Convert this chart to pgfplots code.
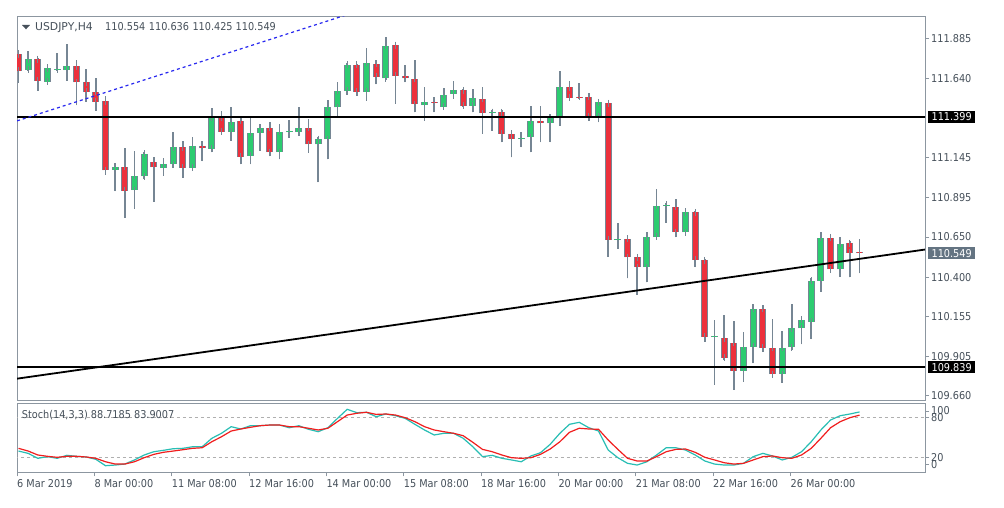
\documentclass[border=0pt]{standalone}
\usepackage{fontspec}
\setmainfont{DejaVu Sans Condensed}
\newfontfamily\widefont{DejaVu Sans}
\usepackage{pgfplots}
\pgfplotsset{compat=1.18}
\usepackage{pgfplotstable}

\definecolor{barGray}{RGB}{118,134,148}
\definecolor{axisGray}{RGB}{140,150,160}
\definecolor{textGray}{RGB}{70,80,90}
\definecolor{bullGreen}{RGB}{44,204,112}
\definecolor{bearRed}{RGB}{236,48,60}
\definecolor{kColor}{RGB}{40,190,180}
\definecolor{dColor}{RGB}{240,30,30}
\definecolor{lastGray}{RGB}{100,116,130}
\definecolor{trendBlue}{RGB}{40,40,240}
\definecolor{levelGray}{RGB}{175,175,175}
\newcommand\tf{\fontsize{10.8}{12}\selectfont}

% bullish candles (close >= open)
\pgfplotstableread{
i O H L C
1 111.692 111.810 111.686 111.760
3 111.619 111.727 111.612 111.702
4 111.695 111.799 111.686 111.697
5 111.690 111.852 111.623 111.715
10 111.068 111.114 110.937 111.089
12 110.943 111.188 110.825 111.031
13 111.029 111.182 111.012 111.168
15 111.082 111.145 111.031 111.106
16 111.104 111.303 111.082 111.210
18 111.082 111.272 111.079 111.218
20 111.199 111.457 111.179 111.397
22 111.307 111.463 111.251 111.369
24 111.157 111.399 111.104 111.301
25 111.301 111.352 111.187 111.332
27 111.179 111.354 111.135 111.307
28 111.312 111.378 111.268 111.314
29 111.307 111.461 111.283 111.332
31 111.227 111.272 110.991 111.261
32 111.261 111.505 111.135 111.459
33 111.459 111.619 111.405 111.563
34 111.561 111.733 111.536 111.723
36 111.556 111.831 111.500 111.737
38 111.640 111.895 111.629 111.843
42 111.473 111.587 111.376 111.490
44 111.463 111.581 111.459 111.536
45 111.542 111.625 111.511 111.565
47 111.469 111.571 111.428 111.519
49 111.427 111.442 111.313 111.429
52 111.265 111.307 111.210 111.267
53 111.272 111.467 111.179 111.376
55 111.359 111.417 111.241 111.390
56 111.390 111.687 111.344 111.587
60 111.403 111.511 111.366 111.489
62 110.635 110.740 110.576 110.637
65 110.462 110.680 110.368 110.652
66 110.652 110.948 110.652 110.844
67 110.849 110.861 110.740 110.851
69 110.680 110.833 110.669 110.804
72 110.028 110.133 109.728 110.030
75 109.817 110.060 109.748 109.967
76 109.967 110.233 109.863 110.202
79 109.796 110.066 109.742 109.960
80 109.963 110.233 109.946 110.081
81 110.081 110.158 109.983 110.133
82 110.122 110.397 110.013 110.376
83 110.376 110.680 110.309 110.646
85 110.449 110.652 110.403 110.607
}\bull

% bearish candles (close < open)
\pgfplotstableread{
i O H L C
0 111.791 111.816 111.611 111.686
2 111.760 111.768 111.561 111.625
6 111.715 111.754 111.473 111.615
7 111.615 111.696 111.494 111.556
8 111.556 111.644 111.436 111.494
9 111.498 111.530 111.037 111.066
11 111.089 111.203 110.771 110.939
14 111.120 111.147 110.871 111.085
17 111.210 111.249 111.020 111.082
19 111.218 111.249 111.124 111.203
21 111.394 111.438 111.305 111.307
23 111.374 111.390 111.104 111.151
26 111.331 111.369 111.154 111.180
30 111.331 111.384 111.177 111.227
35 111.723 111.729 111.531 111.556
37 111.729 111.754 111.602 111.648
39 111.847 111.854 111.480 111.656
40 111.656 111.723 111.615 111.640
41 111.637 111.754 111.428 111.478
43 111.491 111.521 111.428 111.489
46 111.565 111.571 111.463 111.469
48 111.511 111.587 111.293 111.422
50 111.428 111.442 111.241 111.293
51 111.293 111.293 111.147 111.261
54 111.376 111.467 111.241 111.359
57 111.584 111.625 111.511 111.519
58 111.526 111.612 111.511 111.524
59 111.525 111.546 111.376 111.400
61 111.483 111.483 110.526 110.632
63 110.638 110.657 110.393 110.524
64 110.524 110.526 110.289 110.462
68 110.839 110.887 110.649 110.680
70 110.804 110.814 110.462 110.507
71 110.504 110.511 109.998 110.029
73 110.019 110.164 109.884 109.898
74 109.991 110.129 109.697 109.817
77 110.202 110.227 109.935 109.960
78 109.960 110.137 109.780 109.796
84 110.646 110.646 110.434 110.449
86 110.611 110.626 110.399 110.553
87 110.554 110.636 110.425 110.549
}\bear

% Stochastic (14,3,3): main K and signal D
\pgfplotstableread{
i K D
0 29.5 33.6
1 26 29.5
2 18.5 23.5
3 21 21.5
4 18.5 20
5 23 21.5
6 21.5 21.5
7 20.5 20.5
8 17 18.5
9 7.3 13.3
10 8.3 9.8
11 9.8 9.8
12 16 13.3
13 23.5 19.4
14 28.5 24.5
15 30.6 27.6
16 33 29.5
17 33.6 31.5
18 36 33.6
19 36 34.5
20 48.8 43.6
21 56.4 51.2
22 66.4 59.8
23 62.9 62.9
24 67.9 65.5
25 67.9 67.9
26 68.9 68.9
27 68.9 68.9
28 64.8 66.4
29 67.9 66.4
30 62.4 64
31 58.8 61.4
32 64.8 64
33 79 74
34 92.7 84
35 87.6 86.7
36 88.2 88.2
37 81.5 85
38 85.6 85.6
39 83 84
40 79 80
41 70 74
42 61.4 66.4
43 53.8 61.4
44 56.4 58.8
45 56.4 56.4
46 48.8 52.7
47 36 42.7
48 21 32
49 23 28.5
50 18.5 23.5
51 16 19.4
52 13.3 18.5
53 22 19.4
54 27 24.5
55 39.7 32.6
56 56.4 43.6
57 70 57.9
58 73 64
59 64.8 62.9
60 59.8 62.4
61 31 46.2
62 19.4 32
63 10.9 18.5
64 8.3 14.4
65 13.3 14.4
66 23.5 21
67 34.5 28.5
68 34.5 32
69 31 32.6
70 23.5 27.6
71 14.4 20
72 9.8 16
73 8.3 11.8
74 8.3 9.8
75 10.9 10.9
76 21 16
77 26 21
78 22 22
79 16 19.4
80 20 18.5
81 28.5 23.5
82 43.6 33.6
83 61.4 48.8
84 76.5 64.8
85 83 74
86 85.6 80
87 88.7185 83.9007
}\stoch

\pgfplotsset{
  nomark/.style={only marks, mark=*, mark size=0pt, mark options={draw=none, fill=none}, forget plot},
  wick/.style={nomark,
    error bars/.cd, y dir=plus, y explicit,
    error bar style={draw=barGray, line width=1.5pt}, error mark=none},
  bodyline/.style={nomark,
    error bars/.cd, y dir=plus, y explicit,
    error bar style={draw=barGray, line width=7pt}, error mark=none},
  bodyfill/.style={nomark,
    error bars/.cd, y dir=both, y explicit,
    error bar style={draw=#1, line width=5pt},
    error mark=-, error mark options={draw=barGray, line width=1pt, mark size=3.5pt}},
}

\begin{document}
\begin{tikzpicture}
\fill[white] (0,0) rectangle (1004pt,507pt);
\path[use as bounding box] (0,0) rectangle (1004pt,507pt);

% ---------- main price panel ----------
\begin{axis}[
  at={(17pt,107pt)}, anchor=south west,
  scale only axis, width=908pt, height=383.5pt,
  xmin=-0.155, xmax=93.77, ymin=109.634, ymax=112.025,
  clip mode=individual,
  axis line style={axisGray, line width=1pt},
  xtick=\empty,
  ytick={109.660,109.905,110.155,110.400,110.650,110.895,111.145,111.640,111.885},
  yticklabels={109.660,109.905,110.155,110.400,110.650,110.895,111.145,111.640,111.885},
  ytick pos=right, yticklabel pos=right,
  tick align=outside, major tick length=4pt,
  tick style={axisGray, line width=1pt},
  yticklabel style={anchor=west, inner sep=0pt, xshift=2pt, font=\tf, text=textGray},
]
\addplot[wick] table[x=i, y=L, y error plus expr=\thisrow{H}-\thisrow{L}] {\bull};
\addplot[wick] table[x=i, y=L, y error plus expr=\thisrow{H}-\thisrow{L}] {\bear};
\addplot[bodyline] table[x=i, y=O, y error plus expr=\thisrow{C}-\thisrow{O}] {\bull};
\addplot[bodyline] table[x=i, y=C, y error plus expr=\thisrow{O}-\thisrow{C}] {\bear};
\addplot[bodyfill=bullGreen] table[x=i, y=O, y error plus expr=\thisrow{C}-\thisrow{O}, y error minus expr=0] {\bull};
\addplot[bodyfill=bearRed] table[x=i, y=C, y error plus expr=\thisrow{O}-\thisrow{C}, y error minus expr=0] {\bear};

% drawn levels and trend lines
\addplot[black, line width=2pt, forget plot] coordinates {(-1,111.399) (95,111.399)};
\addplot[black, line width=2pt, forget plot] coordinates {(-1,109.839) (95,109.839)};
\addplot[black, line width=1.8pt, forget plot] coordinates {(-0.155,109.767) (93.77,110.572)};
\addplot[trendBlue, line width=1.2pt, dash pattern=on 3pt off 3pt, forget plot] coordinates {(-0.155,111.374) (40,112.153)};
\end{axis}

% ---------- stochastic panel ----------
\begin{axis}[
  at={(17pt,34.7pt)}, anchor=south west,
  scale only axis, width=908pt, height=68.8pt,
  xmin=-0.155, xmax=93.77, ymin=-2.7, ymax=101.5,
  clip mode=individual,
  axis line style={axisGray, line width=1pt},
  xtick={-0.155,7.845,15.845,23.845,31.845,39.845,47.845,55.845,63.845,71.845,79.845},
  xticklabels={6 Mar 2019,8 Mar 00:00,11 Mar 08:00,12 Mar 16:00,14 Mar 00:00,15 Mar 08:00,18 Mar 16:00,20 Mar 00:00,21 Mar 08:00,22 Mar 16:00,26 Mar 00:00},
  xtick pos=left,
  ytick={9.1,20,80,90.1},
  yticklabels={0,20,80,100},
  ytick pos=right, yticklabel pos=right,
  tick align=outside, major tick length=4pt,
  tick style={axisGray, line width=1pt},
  xticklabel style={anchor=north west, inner sep=0pt, yshift=-3pt, font=\tf, text=textGray},
  yticklabel style={anchor=west, inner sep=0pt, xshift=2pt, font=\tf, text=textGray},
]
\addplot[levelGray, line width=0.8pt, dash pattern=on 3pt off 3pt, forget plot] coordinates {(-1,80) (95,80)};
\addplot[levelGray, line width=0.8pt, dash pattern=on 3pt off 3pt, forget plot] coordinates {(-1,20) (95,20)};
\addplot[kColor, line width=1.2pt] table[x=i, y=K] {\stoch};
\addplot[dColor, line width=1.2pt] table[x=i, y=D] {\stoch};
\end{axis}

% ---------- labels ----------
\fill[textGray] (22pt,482pt) -- (30pt,482pt) -- (26pt,477.7pt) -- cycle;
\node[anchor=base west, inner sep=0pt, font=\widefont\fontsize{10.8}{12}\selectfont, text=textGray] at (35pt,476.3pt) {USDJPY,H4};
\node[anchor=base west, inner sep=0pt, font=\tf, text=textGray] at (105pt,476.3pt) {110.554};
\node[anchor=base west, inner sep=0pt, font=\tf, text=textGray] at (148.7pt,476.3pt) {110.636};
\node[anchor=base west, inner sep=0pt, font=\tf, text=textGray] at (192.3pt,476.3pt) {110.425};
\node[anchor=base west, inner sep=0pt, font=\tf, text=textGray] at (235.5pt,476.3pt) {110.549};
\node[anchor=base west, inner sep=0pt, font=\tf, text=textGray] at (21.7pt,88.7pt)
  {Stoch(14,3,3) 88.7185 83.9007};
\node[anchor=west, fill=black, text=white, inner sep=0pt, minimum width=47pt, minimum height=12pt, font=\tf] at (928pt,390.3pt) {111.399};
\node[anchor=west, fill=lastGray, text=white, inner sep=0pt, minimum width=47pt, minimum height=12pt, font=\tf] at (928pt,253.7pt) {110.549};
\node[anchor=west, fill=black, text=white, inner sep=0pt, minimum width=47pt, minimum height=12pt, font=\tf] at (928pt,139.6pt) {109.839};
\end{tikzpicture}
\end{document}
